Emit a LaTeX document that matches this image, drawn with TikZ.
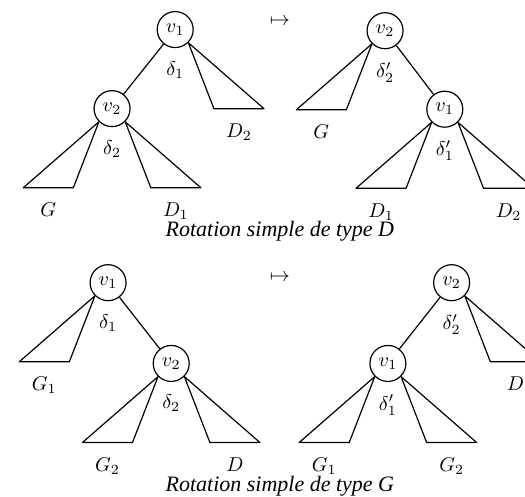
\documentclass[tikz,border=0pt]{standalone}
\usepackage{amsmath,amssymb}
\usepackage{fontspec}
\setmainfont{Liberation Serif}
\usepackage{tikz}
\usetikzlibrary{positioning}

\tikzset{vertex/.style={circle,draw,semithick,minimum size=18pt,inner sep=0pt},
  subtree/.style={draw,semithick,line join=round},
  caption/.style={font=\fontsize{11}{13}\selectfont\itshape}}

\begin{document}
\begin{tikzpicture}
\useasboundingbox (0,0) rectangle (9.23,8.73);
% type D, avant
\node[vertex] (v1a) at (3.08,8.21) {$v_1$};
\node[vertex] (v2a) at (1.97,6.82) {$v_2$};
\node (d1a) [below=3pt of v1a] {$\delta_1$};
\node (d2a) [below=3pt of v2a] {$\delta_2$};
\draw[semithick] (v1a) -- (v2a);
\draw[subtree] (v1a.south east) -- ++(0.45,-1.16) -- node[below=4pt] (D2a) {$D_2$} ++(0.88,0) -- cycle;
\draw[subtree] (v2a.south west) -- ++(-1.33,-1.16) -- node[below=4pt] (Ga) {$G$} ++(0.88,0) -- cycle;
\draw[subtree] (v2a.south east) -- ++(0.45,-1.16) -- node[below=4pt] (D1a) {$D_1$} ++(0.88,0) -- cycle;
\node (mapD) at (4.92,8.35) {$\mapsto$};
% type D, apres
\node[vertex] (v2b) at (6.77,8.19) {$v_2$};
\node[vertex] (v1b) at (7.82,6.81) {$v_1$};
\node (d2b) [below=3pt of v2b] {$\delta'_2$};
\node (d1b) [below=3pt of v1b] {$\delta'_1$};
\draw[semithick] (v2b) -- (v1b);
\draw[subtree] (v2b.south west) -- ++(-1.33,-1.16) -- node[below=4pt] (Gb) {$G$} ++(0.88,0) -- cycle;
\draw[subtree] (v1b.south west) -- ++(-1.33,-1.16) -- node[below=4pt] (D1b) {$D_1$} ++(0.88,0) -- cycle;
\draw[subtree] (v1b.south east) -- ++(0.45,-1.16) -- node[below=4pt] (D2b) {$D_2$} ++(0.88,0) -- cycle;
\node[caption] (capD) at (4.92,4.66) {Rotation simple de type D};
% type G, avant
\node[vertex] (v1c) at (1.90,3.76) {$v_1$};
\node[vertex] (v2c) at (3.01,2.34) {$v_2$};
\node (d1c) [below=3pt of v1c] {$\delta_1$};
\node (d2c) [below=3pt of v2c] {$\delta_2$};
\draw[semithick] (v1c) -- (v2c);
\draw[subtree] (v1c.south west) -- ++(-1.33,-1.16) -- node[below=4pt] (G1c) {$G_1$} ++(0.88,0) -- cycle;
\draw[subtree] (v2c.south west) -- ++(-1.33,-1.16) -- node[below=4pt] (G2c) {$G_2$} ++(0.88,0) -- cycle;
\draw[subtree] (v2c.south east) -- ++(0.45,-1.16) -- node[below=4pt] (Dc) {$D$} ++(0.88,0) -- cycle;
\node (mapG) at (4.92,3.85) {$\mapsto$};
% type G, apres
\node[vertex] (v2d) at (7.94,3.76) {$v_2$};
\node[vertex] (v1d) at (6.82,2.34) {$v_1$};
\node (d2d) [below=3pt of v2d] {$\delta'_2$};
\node (d1d) [below=3pt of v1d] {$\delta'_1$};
\draw[semithick] (v2d) -- (v1d);
\draw[subtree] (v2d.south east) -- ++(0.45,-1.16) -- node[below=4pt] (Dd) {$D$} ++(0.88,0) -- cycle;
\draw[subtree] (v1d.south west) -- ++(-1.33,-1.16) -- node[below=4pt] (G1d) {$G_1$} ++(0.88,0) -- cycle;
\draw[subtree] (v1d.south east) -- ++(0.45,-1.16) -- node[below=4pt] (G2d) {$G_2$} ++(0.88,0) -- cycle;
\node[caption] (capG) at (4.92,0.18) {Rotation simple de type G};
\end{tikzpicture}
\end{document}
